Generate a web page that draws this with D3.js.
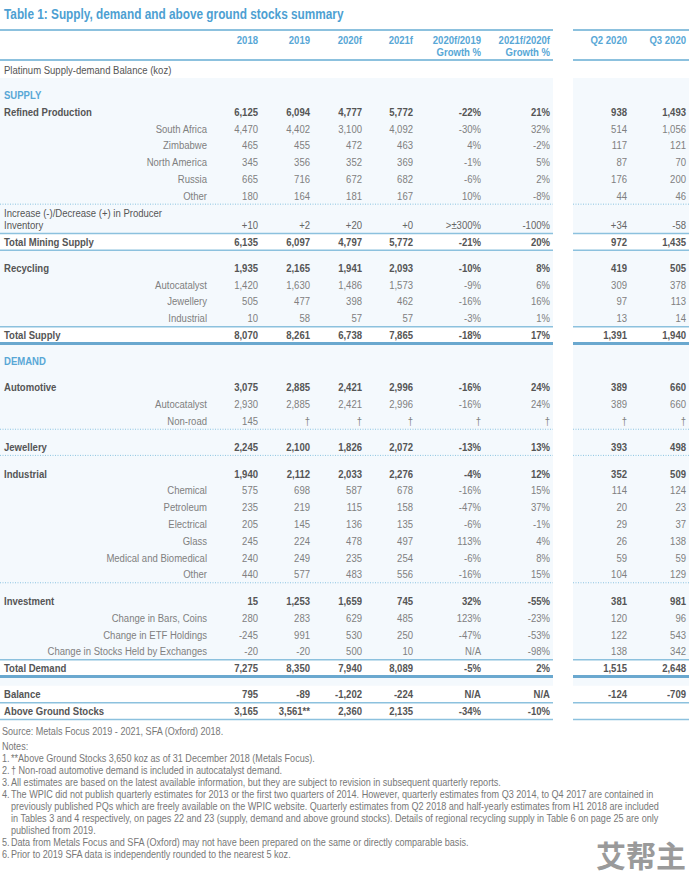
<!DOCTYPE html>
<html><head><meta charset="utf-8">
<script src="https://cdn.jsdelivr.net/npm/d3@7"></script>
<style>
html,body{margin:0;padding:0;background:#fff;}
svg text{font-family:"Liberation Sans",Arial,sans-serif;}
</style></head>
<body><svg id="c" width="689" height="874"></svg>
<script>
// ---------- data ----------
const title = "Table 1: Supply, demand and above ground stocks summary";
const colKeys = ["y2018","y2019","y2020","y2021","g2020","g2021","q2","q3"];
const headLine1 = ["2018","2019","2020f","2021f","2020f/2019","2021f/2020f","Q2 2020","Q3 2020"];
const headLine2 = ["","","","","Growth %","Growth %","",""];

const rowLabels = ["Platinum Supply-demand Balance (koz)","SUPPLY","Refined Production","South Africa","Zimbabwe","North America","Russia","Other",
 "Increase (-)/Decrease (+) in Producer|Inventory","Total Mining Supply","Recycling","Autocatalyst","Jewellery","Industrial","Total Supply",
 "DEMAND","Automotive","Autocatalyst","Non-road","Jewellery","Industrial","Chemical","Petroleum","Electrical","Glass","Medical and Biomedical","Other",
 "Investment","Change in Bars, Coins","Change in ETF Holdings","Change in Stocks Held by Exchanges","Total Demand","Balance","Above Ground Stocks"];
const rowKinds = ["caption","section","main","sub","sub","sub","sub","sub",
 "plain","total","main","sub","sub","sub","total",
 "section","main","sub","sub","main","main","sub","sub","sub","sub","sub","sub",
 "main","sub","sub","sub","total","main","main"];

const y2018 = ["","","6,125","4,470","465","345","665","180","+10","6,135","1,935","1,420","505","10","8,070","","3,075","2,930","145","2,245","1,940","575","235","205","245","240","440","15","280","-245","-20","7,275","795","3,165"];
const y2019 = ["","","6,094","4,402","455","356","716","164","+2","6,097","2,165","1,630","477","58","8,261","","2,885","2,885","†","2,100","2,112","698","219","145","224","249","577","1,253","283","991","-20","8,350","-89","3,561**"];
const y2020 = ["","","4,777","3,100","472","352","672","181","+20","4,797","1,941","1,486","398","57","6,738","","2,421","2,421","†","1,826","2,033","587","115","136","478","235","483","1,659","629","530","500","7,940","-1,202","2,360"];
const y2021 = ["","","5,772","4,092","463","369","682","167","+0","5,772","2,093","1,573","462","57","7,865","","2,996","2,996","†","2,072","2,276","678","158","135","497","254","556","745","485","250","10","8,089","-224","2,135"];
const g2020 = ["","","-22%","-30%","4%","-1%","-6%","10%",">±300%","-21%","-10%","-9%","-16%","-3%","-18%","","-16%","-16%","†","-13%","-4%","-16%","-47%","-6%","113%","-6%","-16%","32%","123%","-47%","N/A","-5%","N/A","-34%"];
const g2021 = ["","","21%","32%","-2%","5%","2%","-8%","-100%","20%","8%","6%","16%","1%","17%","","24%","24%","†","13%","12%","15%","37%","-1%","4%","8%","15%","-55%","-23%","-53%","-98%","2%","N/A","-10%"];
const q2 = ["","","938","514","117","87","176","44","+34","972","419","309","97","13","1,391","","389","389","†","393","352","114","20","29","26","59","104","381","120","122","138","1,515","-124",""];
const q3 = ["","","1,493","1,056","121","70","200","46","-58","1,435","505","378","113","14","1,940","","660","660","†","498","509","124","23","37","138","59","129","981","96","543","342","2,648","-709",""];

const sourceText = "Source: Metals Focus 2019 - 2021, SFA (Oxford) 2018.";
const notesHead = "Notes:";
const notes = [
 ["1.","**Above Ground Stocks 3,650 koz as of 31 December 2018 (Metals Focus)."],
 ["2.","† Non-road automotive demand is included in autocatalyst demand."],
 ["3.","All estimates are based on the latest available information, but they are subject to revision in subsequent quarterly reports."],
 ["4.","The WPIC did not publish quarterly estimates for 2013 or the first two quarters of 2014. However, quarterly estimates from Q3 2014, to Q4 2017 are contained in"],
 ["","previously published PQs which are freely available on the WPIC website. Quarterly estimates from Q2 2018 and half-yearly estimates from H1 2018 are included"],
 ["","in Tables 3 and 4 respectively, on pages 22 and 23 (supply, demand and above ground stocks). Details of regional recycling supply in Table 6 on page 25 are only"],
 ["","published from 2019."],
 ["5.","Data from Metals Focus and SFA (Oxford) may not have been prepared on the same or directly comparable basis."],
 ["6.","Prior to 2019 SFA data is independently rounded to the nearest 5 koz."]
];
const watermark = "艾帮主";

// ---------- layout ----------
const rowGaps = [0,1.5,1,1,1,1,1,1, 1.75,1,1.56,1,1,1,1, 1.56,1.56,1,1,1.56,1.6,1,1,1,1,1,1, 1.6,1,1,1,1,1.56,1];
const lineAfter = {7:"dot",8:"thin",9:"thin",13:"thin",14:"thick",18:"dot",19:"dot",26:"dot",30:"thin",31:"thick",32:"thin",33:"thin"};

const svg = d3.select("#c");
const BLUE = "#58a7d6", LINE = "#8cc1de", THICK = "#6aa8cf";
const SX = 0.83;

function txt(x, y, s, o = {}) {
  return svg.append("text")
    .attr("transform", `translate(${x},${y}) scale(${o.sx || SX},1)`)
    .attr("dy", "0.35em")
    .attr("text-anchor", o.anchor || "start")
    .attr("fill", o.fill || "#555")
    .attr("font-weight", o.bold ? "bold" : "normal")
    .attr("font-size", o.size || 11.5)
    .text(s);
}

const cum = []; rowGaps.reduce((a,g,i)=>{cum[i]=a+g;return a+g;},0);
const yScale = d3.scaleLinear().domain([0, cum[cum.length-1]]).range([70, 711]);
const rowY = i => yScale(cum[i]);

const xCol = d3.scaleOrdinal().domain(colKeys).range([258,310,362,413,481,550,627,686]);
const panels = [[0,553],[573,689]];
const colData = {y2018,y2019,y2020,y2021,g2020,g2021,q2,q3};

// backgrounds
panels.forEach(p=>{
  svg.append("rect").attr("x",p[0]).attr("y",78).attr("width",p[1]-p[0]).attr("height",rowY(33)+8.5-78).attr("fill","#f4f9fd");
});
rowKinds.forEach((k,i)=>{
  if(k==="total"||i>=32){
    panels.forEach(p=>svg.append("rect").attr("x",p[0]).attr("y",rowY(i)-8.5).attr("width",p[1]-p[0]).attr("height",17).attr("fill","#fff"));
  }
});

// title
txt(4, 14, title, {fill:"#4d9fd2", bold:true, size:14.5, sx:0.815});

// top/header lines
panels.forEach(p=>{
  svg.append("line").attr("x1",p[0]).attr("x2",p[1]).attr("y1",30).attr("y2",30).attr("stroke",LINE).attr("stroke-width",2);
  svg.append("line").attr("x1",p[0]).attr("x2",p[1]).attr("y1",60).attr("y2",60).attr("stroke",LINE).attr("stroke-width",2);
});
colKeys.forEach((c,i)=>{
  txt(xCol(c), 40, headLine1[i], {anchor:"end", fill:BLUE, bold:true, size:11.5});
  if(headLine2[i]) txt(xCol(c), 51.5, headLine2[i], {anchor:"end", fill:BLUE, bold:true, size:11.5});
});

// row lines
Object.entries(lineAfter).forEach(([i,t])=>{
  const y = rowY(+i)+8.5;
  panels.forEach(p=>{
    const l = svg.append("line").attr("x1",p[0]).attr("x2",p[1]).attr("y1",y).attr("y2",y);
    if(t==="dot") l.attr("stroke","#8cc4e0").attr("stroke-width",1).attr("stroke-dasharray","1,1.5");
    else if(t==="thin") l.attr("stroke",LINE).attr("stroke-width",1.5);
    else l.attr("stroke",THICK).attr("stroke-width",3);
  });
});

// rows
rowLabels.forEach((lab,i)=>{
  const k = rowKinds[i], y = rowY(i);
  const bold = (k==="main"||k==="total");
  const col = k==="sub" ? "#808080" : "#555";
  if(k==="caption"){ txt(4, y, lab, {fill:"#555"}); return; }
  if(k==="section"){ txt(4, y, lab, {fill:BLUE, bold:true}); return; }
  if(k==="plain"){
    const parts = lab.split("|");
    txt(4, y-12, parts[0], {fill:"#555"});
    txt(4, y, parts[1], {fill:"#555"});
  } else if(k==="sub"){
    txt(207, y, lab, {anchor:"end", fill:col});
  } else {
    txt(4, y, lab, {fill:col, bold:true});
  }
  colKeys.forEach(c=>{
    const v = colData[c][i];
    if(!v) return;
    txt(xCol(c), y, v, {anchor:"end", fill: k==="sub" ? "#808080" : (k==="plain" ? "#666" : "#555"), bold});
  });
});

// source and notes
const NS = {fill:"#777", size:10.5, sx:0.865};
txt(2, 731, sourceText, NS);
txt(2, 746, notesHead, NS);
const ny = d3.scaleLinear().domain([0,notes.length-1]).range([758,854]);
notes.forEach((n,i)=>{
  if(n[0]) txt(2, ny(i), n[0], NS);
  txt(11, ny(i), n[1], NS);
});
svg.append("text").attr("x",686).attr("y",856).attr("dy","0.35em").attr("text-anchor","end")
  .attr("fill","#9a9a9a").attr("font-weight","bold").attr("font-size",30)
  .style("font-family","'Noto Sans CJK SC',sans-serif").text(watermark);
</script></body></html>
